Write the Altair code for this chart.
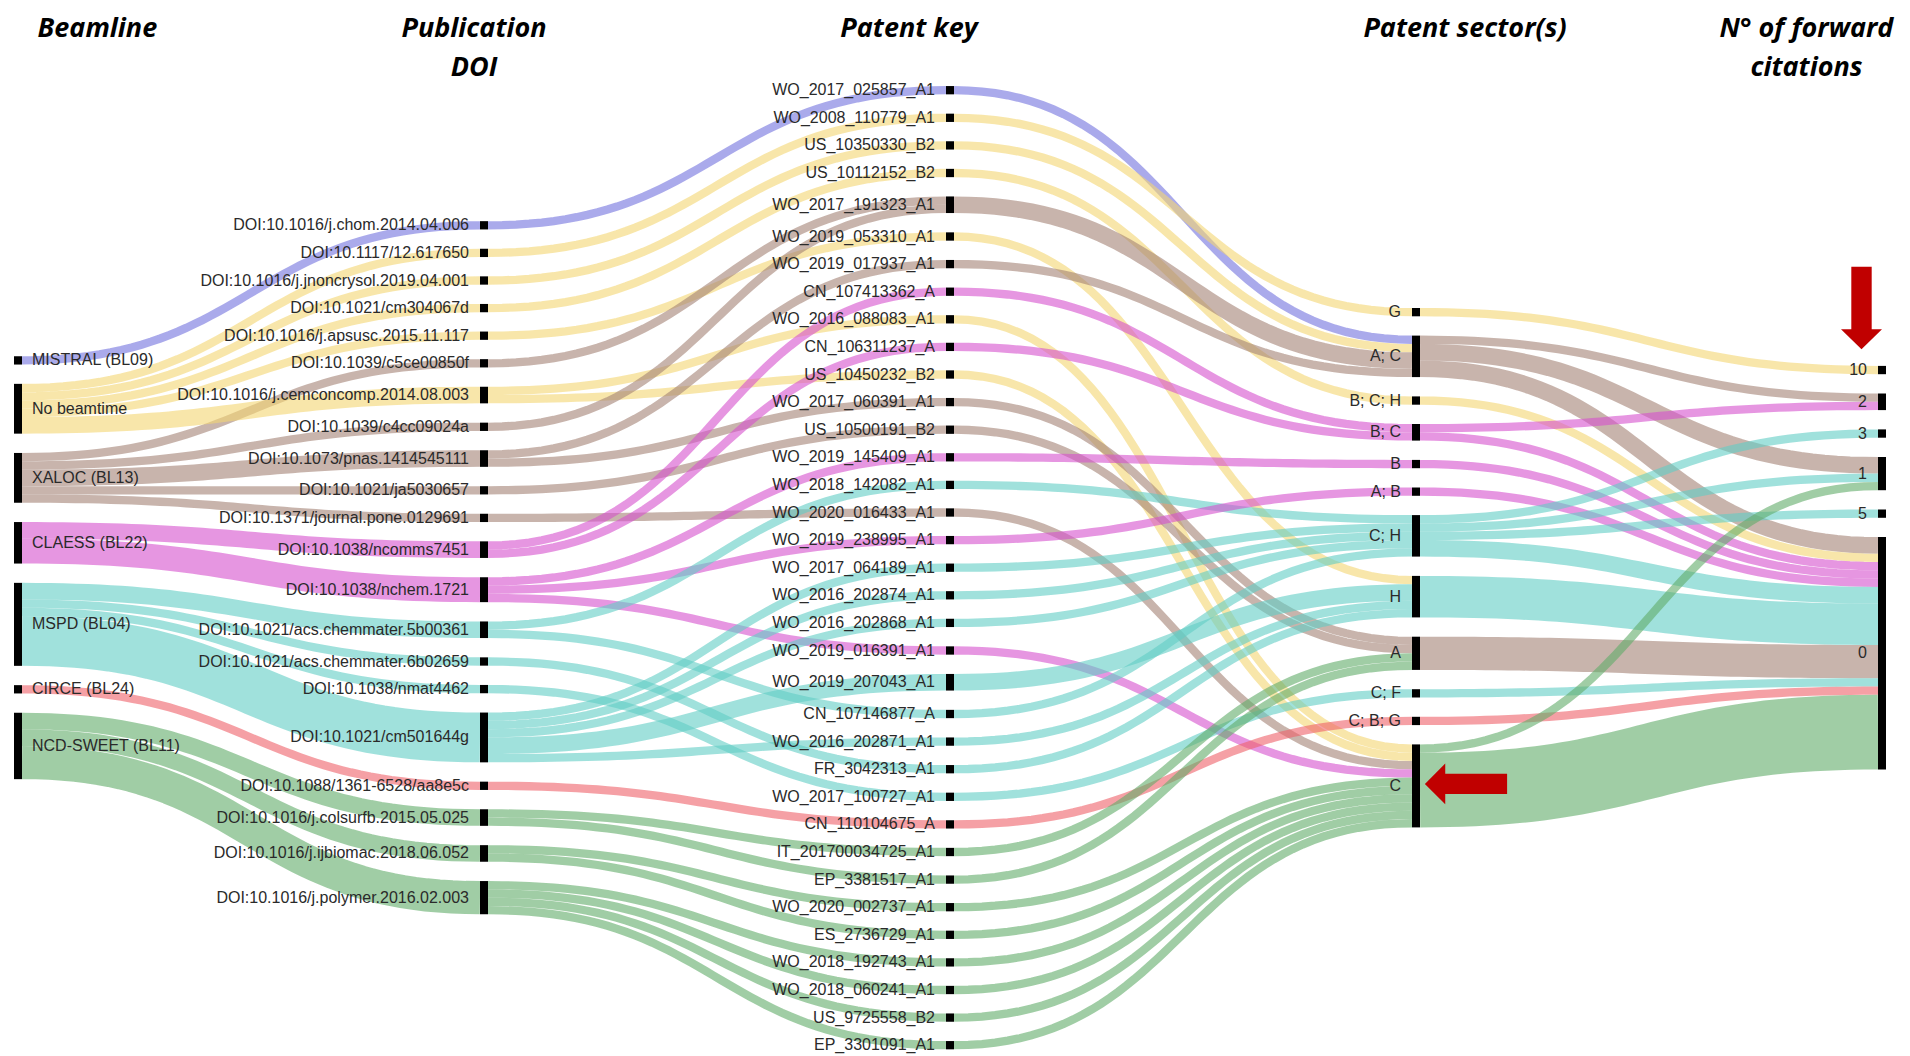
import numpy as np
import pandas as pd
import altair as alt

# ---------------- data ----------------
beamlines = ["MISTRAL (BL09)", "No beamtime", "XALOC (BL13)", "CLAESS (BL22)",
             "MSPD (BL04)", "CIRCE (BL24)", "NCD-SWEET (BL11)"]
group_colors = ["#7171de", "#f3d571", "#a38275", "#d550cd", "#61cdc5", "#ee6169", "#61ac69"]

dois = [
    "DOI:10.1016/j.chom.2014.04.006",
    "DOI:10.1117/12.617650",
    "DOI:10.1016/j.jnoncrysol.2019.04.001",
    "DOI:10.1021/cm304067d",
    "DOI:10.1016/j.apsusc.2015.11.117",
    "DOI:10.1039/c5ce00850f",
    "DOI:10.1016/j.cemconcomp.2014.08.003",
    "DOI:10.1039/c4cc09024a",
    "DOI:10.1073/pnas.1414545111",
    "DOI:10.1021/ja5030657",
    "DOI:10.1371/journal.pone.0129691",
    "DOI:10.1038/ncomms7451",
    "DOI:10.1038/nchem.1721",
    "DOI:10.1021/acs.chemmater.5b00361",
    "DOI:10.1021/acs.chemmater.6b02659",
    "DOI:10.1038/nmat4462",
    "DOI:10.1021/cm501644g",
    "DOI:10.1088/1361-6528/aa8e5c",
    "DOI:10.1016/j.colsurfb.2015.05.025",
    "DOI:10.1016/j.ijbiomac.2018.06.052",
    "DOI:10.1016/j.polymer.2016.02.003",
]
doi_beamline = [
    "MISTRAL (BL09)", "No beamtime", "No beamtime", "No beamtime", "No beamtime",
    "XALOC (BL13)", "No beamtime", "XALOC (BL13)", "XALOC (BL13)", "XALOC (BL13)",
    "XALOC (BL13)", "CLAESS (BL22)", "CLAESS (BL22)", "MSPD (BL04)", "MSPD (BL04)",
    "MSPD (BL04)", "MSPD (BL04)", "CIRCE (BL24)", "NCD-SWEET (BL11)",
    "NCD-SWEET (BL11)", "NCD-SWEET (BL11)",
]

patents = [
    "WO_2017_025857_A1", "WO_2008_110779_A1", "US_10350330_B2", "US_10112152_B2",
    "WO_2017_191323_A1", "WO_2019_053310_A1", "WO_2019_017937_A1", "CN_107413362_A",
    "WO_2016_088083_A1", "CN_106311237_A", "US_10450232_B2", "WO_2017_060391_A1",
    "US_10500191_B2", "WO_2019_145409_A1", "WO_2018_142082_A1", "WO_2020_016433_A1",
    "WO_2019_238995_A1", "WO_2017_064189_A1", "WO_2016_202874_A1", "WO_2016_202868_A1",
    "WO_2019_016391_A1", "WO_2019_207043_A1", "CN_107146877_A", "WO_2016_202871_A1",
    "FR_3042313_A1", "WO_2017_100727_A1", "CN_110104675_A", "IT_201700034725_A1",
    "EP_3381517_A1", "WO_2020_002737_A1", "ES_2736729_A1", "WO_2018_192743_A1",
    "WO_2018_060241_A1", "US_9725558_B2", "EP_3301091_A1",
]
patent_sector = [
    "A; C", "G", "A; C", "B; C; H", "A; C", "H", "A; C", "B; C", "C", "B; C", "C", "A",
    "A", "B", "C; H", "C", "A; B", "C; H", "C; H", "C; H", "C", "H", "C; H", "H", "H",
    "C; F", "C; B; G", "A", "A", "C", "C", "C", "C", "C", "C",
]

doi_patent_src = [
    "DOI:10.1016/j.chom.2014.04.006", "DOI:10.1117/12.617650",
    "DOI:10.1016/j.jnoncrysol.2019.04.001", "DOI:10.1021/cm304067d",
    "DOI:10.1016/j.apsusc.2015.11.117", "DOI:10.1016/j.cemconcomp.2014.08.003",
    "DOI:10.1016/j.cemconcomp.2014.08.003", "DOI:10.1039/c5ce00850f",
    "DOI:10.1039/c4cc09024a", "DOI:10.1073/pnas.1414545111", "DOI:10.1073/pnas.1414545111",
    "DOI:10.1021/ja5030657", "DOI:10.1371/journal.pone.0129691", "DOI:10.1038/ncomms7451",
    "DOI:10.1038/ncomms7451", "DOI:10.1038/nchem.1721", "DOI:10.1038/nchem.1721",
    "DOI:10.1038/nchem.1721", "DOI:10.1021/acs.chemmater.5b00361",
    "DOI:10.1021/acs.chemmater.5b00361", "DOI:10.1021/acs.chemmater.6b02659",
    "DOI:10.1038/nmat4462", "DOI:10.1021/cm501644g", "DOI:10.1021/cm501644g",
    "DOI:10.1021/cm501644g", "DOI:10.1021/cm501644g", "DOI:10.1021/cm501644g",
    "DOI:10.1088/1361-6528/aa8e5c", "DOI:10.1016/j.colsurfb.2015.05.025",
    "DOI:10.1016/j.colsurfb.2015.05.025", "DOI:10.1016/j.ijbiomac.2018.06.052",
    "DOI:10.1016/j.ijbiomac.2018.06.052", "DOI:10.1016/j.polymer.2016.02.003",
    "DOI:10.1016/j.polymer.2016.02.003", "DOI:10.1016/j.polymer.2016.02.003",
    "DOI:10.1016/j.polymer.2016.02.003",
]
doi_patent_tgt = [
    "WO_2017_025857_A1", "WO_2008_110779_A1", "US_10350330_B2", "US_10112152_B2",
    "WO_2019_053310_A1", "WO_2016_088083_A1", "US_10450232_B2", "WO_2017_191323_A1",
    "WO_2017_191323_A1", "WO_2019_017937_A1", "WO_2017_060391_A1", "US_10500191_B2",
    "WO_2020_016433_A1", "CN_107413362_A", "CN_106311237_A", "WO_2019_145409_A1",
    "WO_2019_238995_A1", "WO_2019_016391_A1", "WO_2018_142082_A1", "CN_107146877_A",
    "FR_3042313_A1", "WO_2017_100727_A1", "WO_2017_064189_A1", "WO_2016_202874_A1",
    "WO_2016_202868_A1", "WO_2019_207043_A1", "WO_2016_202871_A1", "CN_110104675_A",
    "IT_201700034725_A1", "EP_3381517_A1", "WO_2020_002737_A1", "ES_2736729_A1",
    "WO_2018_192743_A1", "WO_2018_060241_A1", "US_9725558_B2", "EP_3301091_A1",
]
doi_patent_val = [1, 1, 1, 1, 1, 1, 1, 1, 1, 1, 1, 1, 1, 1, 1, 1, 1, 1, 1, 1, 1, 1,
                  1, 1, 1, 2, 1, 1, 1, 1, 1, 1, 1, 1, 1, 1]

sectors = ["G", "A; C", "B; C; H", "B; C", "B", "A; B", "C; H", "H", "A", "C; F", "C; B; G", "C"]
citations = ["10", "2", "3", "1", "5", "0"]

sc_src = ["G", "A; C", "A; C", "A; C", "B; C; H", "B; C", "B; C", "B", "A; B",
          "C; H", "C; H", "C; H", "C; H", "H", "A", "C; F", "C; B; G", "C", "C"]
sc_tgt = ["10", "2", "1", "0", "0", "2", "0", "0", "0",
          "3", "1", "5", "0", "0", "0", "0", "0", "1", "0"]
sc_val = [1, 1, 2, 2, 1, 1, 1, 1, 1, 1, 1, 1, 2, 5, 4, 1, 1, 1, 9]
sc_grp = ["No beamtime", "XALOC (BL13)", "XALOC (BL13)", "XALOC (BL13)", "No beamtime",
          "CLAESS (BL22)", "CLAESS (BL22)", "CLAESS (BL22)", "CLAESS (BL22)",
          "MSPD (BL04)", "MSPD (BL04)", "MSPD (BL04)", "MSPD (BL04)", "MSPD (BL04)",
          "XALOC (BL13)", "MSPD (BL04)", "CIRCE (BL24)", "NCD-SWEET (BL11)", "NCD-SWEET (BL11)"]

column_titles = [["Beamline"], ["Publication", "DOI"], ["Patent key"],
                 ["Patent sector(s)"], ["N° of forward", "citations"]]

# ---------------- layout (sankey) ----------------
W, H = 1894, 1048
K, PAD, NODE_W = 8.3, 19.3, 8
COL_X0, COL_DX, CY = 6, 466, 559.7
LABEL_GAP = 11
TITLE_DX = [83.4, -6, -37, 53, -71.5]
TITLE_Y, TITLE_LH = 20.5, 39

columns = [beamlines, dois, patents, sectors, citations]

links = []  # (col, src, tgt, value, group)
doi_group = dict(zip(dois, doi_beamline))
doi_value = {d: 0 for d in dois}
patent_value, patent_group = {}, {}
for s, t, v in zip(doi_patent_src, doi_patent_tgt, doi_patent_val):
    doi_value[s] += v
    patent_value[t] = patent_value.get(t, 0) + v
    patent_group.setdefault(t, doi_group[s])
for d, b in zip(dois, doi_beamline):
    links.append((0, b, d, doi_value[d], b))
for s, t, v in zip(doi_patent_src, doi_patent_tgt, doi_patent_val):
    links.append((1, s, t, v, doi_group[s]))
for p, s in zip(patents, patent_sector):
    links.append((2, p, s, patent_value[p], patent_group[p]))
for s, t, v, g in zip(sc_src, sc_tgt, sc_val, sc_grp):
    links.append((3, s, t, v, g))

nodes = {}
for ci, col in enumerate(columns):
    for name in col:
        nodes[(ci, name)] = {"in": 0, "out": 0}
for c, s, t, v, g in links:
    nodes[(c, s)]["out"] += v
    nodes[(c + 1, t)]["in"] += v

for ci, col in enumerate(columns):
    vals = [max(nodes[(ci, n)]["in"], nodes[(ci, n)]["out"]) for n in col]
    total = sum(vals) * K + (len(col) - 1) * PAD
    y = CY - total / 2
    for n, v in zip(col, vals):
        nd = nodes[(ci, n)]
        nd.update(x0=COL_X0 + ci * COL_DX, y0=y, y1=y + v * K)
        nd["x1"] = nd["x0"] + NODE_W
        y += v * K + PAD

# link offsets inside nodes
out_off, in_off = {}, {}
for key, nd in nodes.items():
    ci, name = key
    outs = [i for i, l in enumerate(links) if l[0] == ci and l[1] == name]
    outs.sort(key=lambda i: nodes[(ci + 1, links[i][2])]["y0"])
    acc = nd["y0"]
    for i in outs:
        out_off[i] = acc
        acc += links[i][3] * K
    ins = [i for i, l in enumerate(links) if l[0] == ci - 1 and l[2] == name]
    ins.sort(key=lambda i: nodes[(ci - 1, links[i][1])]["y0"])
    acc = nd["y0"]
    for i in ins:
        in_off[i] = acc
        acc += links[i][3] * K

ts = np.linspace(0, 1, 48)
rows = []
for i, (c, s, t, v, g) in enumerate(links):
    w = v * K
    xs, xt = nodes[(c, s)]["x1"], nodes[(c + 1, t)]["x0"]
    ys, yt = out_off[i] + w / 2, in_off[i] + w / 2
    xm = (xs + xt) / 2
    for tt in ts:
        a, b = (1 - tt), tt
        x = xs * a ** 3 + 3 * xm * a * a * b + 3 * xm * a * b * b + xt * b ** 3
        y = ys * (a ** 3 + 3 * a * a * b) + yt * (3 * a * b * b + b ** 3)
        rows.append({"lid": i, "t": tt, "x": x, "y": y, "w": w, "group": g})
link_df = pd.DataFrame(rows)

node_rows = []
for (ci, name), nd in nodes.items():
    right = ci == 0
    node_rows.append({
        "name": name, "col": ci, "x0": nd["x0"], "x1": nd["x1"], "y0": nd["y0"], "y1": nd["y1"],
        "ym": (nd["y0"] + nd["y1"]) / 2,
        "lx": nd["x1"] + LABEL_GAP - 1 if right else nd["x0"] - LABEL_GAP,
        "side": "left" if right else "right",
    })
node_df = pd.DataFrame(node_rows)

title_rows = []
for ci, lines in enumerate(column_titles):
    for li, txt in enumerate(lines):
        title_rows.append({"text": txt, "x": COL_X0 + ci * COL_DX + TITLE_DX[ci],
                           "y": TITLE_Y + li * TITLE_LH})
title_df = pd.DataFrame(title_rows)

# annotation arrows pointing at citation node "10" and sector node "C"
n10, nC = nodes[(4, "10")], nodes[(3, "C")]
DOWN = "M -0.247 -1 L 0.247 -1 L 0.247 0.515 L 0.497 0.515 L 0 1 L -0.497 0.515 L -0.247 0.515 Z"
LEFT = "M 1 -0.247 L 1 0.247 L -0.505 0.247 L -0.505 0.497 L -1 0 L -0.505 -0.497 L -0.505 -0.247 Z"
down_df = pd.DataFrame([{"x": n10["x0"] - 16.5, "y": (n10["y0"] + n10["y1"]) / 2 - 62}])
left_df = pd.DataFrame([{"x": nC["x1"] + 46, "y": (nC["y0"] + nC["y1"]) / 2 - 2}])

# ---------------- chart ----------------
xs = alt.Scale(domain=[0, W], range=[0, W], nice=False, zero=False)
ys = alt.Scale(domain=[0, H], range=[0, H], nice=False, zero=False)
X = lambda f: alt.X(f, type="quantitative", scale=xs, axis=None)
Y = lambda f: alt.Y(f, type="quantitative", scale=ys, axis=None)

link_layer = alt.Chart(link_df).mark_line(opacity=0.6, strokeCap="butt").encode(
    x=X("x"), y=Y("y"), detail="lid:N", order="t:Q",
    color=alt.Color("group:N", scale=alt.Scale(domain=beamlines, range=group_colors), legend=None),
    size=alt.Size("w:Q", scale=None, legend=None),
)
node_layer = alt.Chart(node_df).mark_rect(color="black").encode(
    x=X("x0"), x2="x1", y=Y("y0"), y2="y1")
lab_left = alt.Chart(node_df[node_df.side == "left"]).mark_text(
    align="left", baseline="middle", font="Liberation Sans", fontSize=16, color="#2a2a2a"
).encode(x=X("lx"), y=Y("ym"), text="name:N")
lab_right = alt.Chart(node_df[node_df.side == "right"]).mark_text(
    align="right", baseline="middle", font="Liberation Sans", fontSize=16, color="#2a2a2a"
).encode(x=X("lx"), y=Y("ym"), text="name:N")
titles = alt.Chart(title_df).mark_text(
    align="center", baseline="middle", font="Open Sans", fontSize=27,
    fontWeight="bold", fontStyle="italic", color="black"
).encode(x=X("x"), y=Y("y"), text="text:N")
arrow_down = alt.Chart(down_df).mark_point(
    shape=DOWN, filled=True, color="#c00000", opacity=1, size=82.5 ** 2, strokeWidth=0
).encode(x=X("x"), y=Y("y"))
arrow_left = alt.Chart(left_df).mark_point(
    shape=LEFT, filled=True, color="#c00000", opacity=1, size=82.2 ** 2, strokeWidth=0
).encode(x=X("x"), y=Y("y"))

chart = alt.layer(link_layer, node_layer, lab_left, lab_right, titles, arrow_down, arrow_left).properties(
    width=W, height=H, padding=0, autosize=alt.AutoSizeParams(type="none")
).configure_view(stroke=None)

chart.save("out.html", embed_options={"renderer": "svg", "actions": False})
